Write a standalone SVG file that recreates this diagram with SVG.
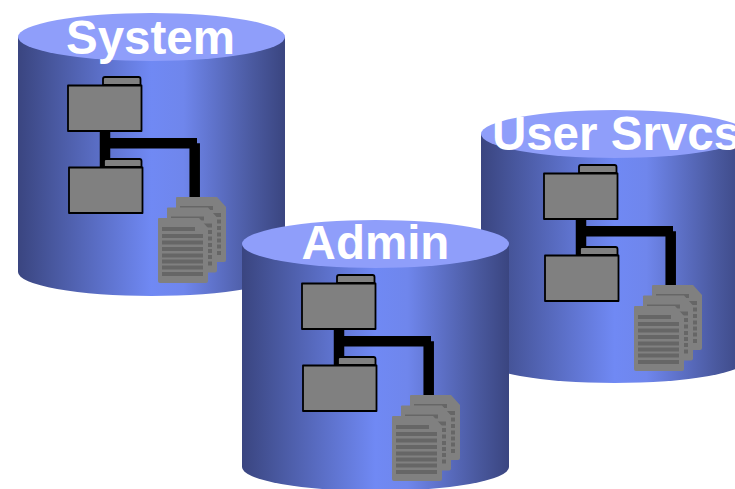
<svg xmlns="http://www.w3.org/2000/svg" xmlns:xlink="http://www.w3.org/1999/xlink" width="735" height="489" viewBox="0 0 735 489">
<style>
.lid{fill:#8f9efa}
.side{fill:url(#g)}
.f{fill:#808080;stroke:#000;stroke-width:1.800;stroke-linejoin:round}
.d{fill:#808080}
.l{fill:#666}
.c{fill:none;stroke:#000;stroke-width:10.500}
.t{font-family:"Liberation Sans",Arial,sans-serif;font-weight:700;font-size:47.500px;fill:#fff;text-anchor:middle}
</style>
<defs>
<linearGradient id="g" x1="0" x2="1" y1="0" y2="0">
<stop offset="0" stop-color="#3a4580"/><stop offset=".12" stop-color="#47569c"/><stop offset=".5" stop-color="#7089f4"/><stop offset=".62" stop-color="#6f86ec"/><stop offset=".88" stop-color="#4a599f"/><stop offset="1" stop-color="#3a4580"/>
</linearGradient>
<g id="folder">
<path class="f" d="M103 85V79Q103 77 105 77H138.500Q140.500 77 140.500 79V85Z"/>
<rect class="f" x="68" y="85.500" width="73.500" height="45.500"/>
</g>
<g id="doc">
<path class="d" d="M159 218H199L208 228V281Q208 283 206 283H160Q158 283 158 281V219Q158 218 159 218Z"/>
<rect class="l" x="162" y="227" width="33" height="4"/>
<rect class="l" x="162" y="234" width="41" height="4"/>
<rect class="l" x="162" y="240.500" width="41" height="4"/>
<rect class="l" x="162" y="247" width="41" height="4"/>
<rect class="l" x="162" y="253.500" width="41" height="4"/>
<rect class="l" x="162" y="259.500" width="41" height="4"/>
<rect class="l" x="162" y="265.500" width="41" height="4"/>
<rect class="l" x="162" y="272" width="41" height="4"/>
</g>
<g id="icons">
<use xlink:href="#folder" href="#folder"/>
<use xlink:href="#folder" href="#folder" x="1" y="82"/>
<use xlink:href="#doc" href="#doc" x="18" y="-21"/>
<use xlink:href="#doc" href="#doc" x="9" y="-10.500"/>
<use xlink:href="#doc" href="#doc"/>
</g>
</defs>
<g id="cyl-system">
<path class="side" d="M18 37V272A133.500 24 0 0 0 285 272V37Z"/>
<ellipse class="lid" cx="151.500" cy="37" rx="133.500" ry="24"/>
</g>
<g id="cyl-user">
<path class="side" d="M481 134V359A133.500 24 0 0 0 748 359V134Z"/>
<ellipse class="lid" cx="614.500" cy="134" rx="133.500" ry="24"/>
</g>
<g id="cyl-admin">
<path class="side" d="M242 244V467A133.500 24 0 0 0 509 467V244Z"/>
<ellipse class="lid" cx="375.500" cy="244" rx="133.500" ry="24"/>
</g>
<g id="connectors">
<path class="c" d="M105 131V167M105 143.300H197M194.700 143.300V197"/>
<path class="c" d="M581 219V255M581 231.300H673M670.700 231.300V285"/>
<path class="c" d="M339 329V365M339 341.300H431M428.700 341.300V395"/>
</g>
<g id="system"><use xlink:href="#icons" href="#icons"/><text class="t" x="150.500" y="53.500">System</text></g>
<g id="user-srvcs"><use xlink:href="#icons" href="#icons" x="476" y="88"/><text class="t" x="616" y="150">User Srvcs</text></g>
<g id="admin"><use xlink:href="#icons" href="#icons" x="234" y="198"/><text class="t" x="375.500" y="259">Admin</text></g>
</svg>
